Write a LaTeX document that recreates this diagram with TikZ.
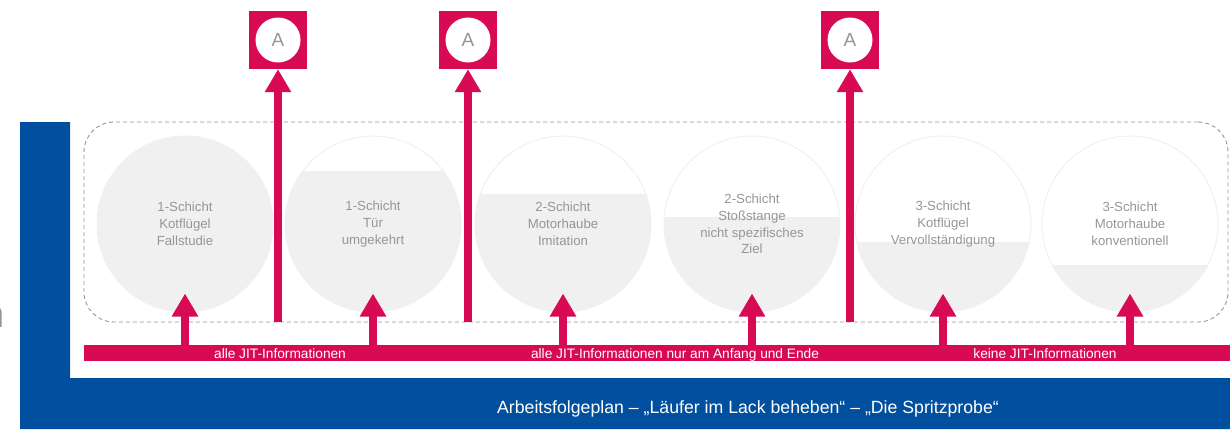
\documentclass[tikz,border=0pt]{standalone}
\usepackage{fontspec}
\setmainfont{Liberation Sans}
\usetikzlibrary{positioning, arrows.meta}
\definecolor{jitred}{HTML}{D70A53}
\definecolor{planblue}{HTML}{00509F}
\definecolor{fillgray}{HTML}{F0F0F0}
\definecolor{textgray}{HTML}{969696}
\begin{document}
\begin{tikzpicture}[x=1pt, y=-1pt,
    schicht/.style={circle, minimum size=176pt, inner sep=0pt, draw=fillgray, line width=1pt, align=center, text=textgray, font=\fontsize{13.2}{16.8}\selectfont},
    abox/.style={fill=jitred, minimum size=58pt, inner sep=0pt},
    aring/.style={circle, fill=white, minimum size=45pt, inner sep=0pt, text=textgray, font=\fontsize{19}{19}\selectfont},
    uparrow/.style={draw=jitred, line width=8pt, -{Triangle[width=25pt, length=23pt]}},
    bartext/.style={anchor=base, text=white, font=\fontsize{13.7}{13.7}\selectfont, inner sep=0pt}]
  \useasboundingbox (0,0) rectangle (1230,429);
  \fill[planblue] (20,122) -- (70,122) -- (70,378) -- (1230,378) -- (1230,429) -- (20,429) -- cycle;
  \node[anchor=base east, inner sep=0pt, text=textgray, font=\fontsize{38}{38}\selectfont] (cut) at (5,327) {n};
  \node[draw=textgray, dash pattern=on 4pt off 3pt, line width=0.9pt, rounded corners=30pt, minimum width=1144pt, minimum height=200pt] (frame) at (656,222) {};
  \foreach \x/\lvl/\nm/\txt in {185/130/s1/{1-Schicht\\Kotflügel\\Fallstudie},
      373/171/s2/{1-Schicht\\Tür\\umgekehrt},
      563/194/s3/{2-Schicht\\Motorhaube\\Imitation},
      752/217/s4/{2-Schicht\\Stoßstange\\nicht spezifisches\\Ziel},
      943/242/s5/{3-Schicht\\Kotflügel\\Vervollständigung},
      1130/265/s6/{3-Schicht\\Motorhaube\\konventionell}}{
    \begin{scope}
      \clip (\x,224) circle (88pt);
      \fill[fillgray] (\x-90,\lvl) rectangle (\x+90,315);
    \end{scope}
    \node[schicht] (\nm) at (\x,224) {\txt};
  }
  \node[fill=jitred, minimum width=1150pt, minimum height=16pt, inner sep=0pt, anchor=west] (bar) at (84,353) {};
  \node[bartext] (j1) at (280,358) {alle JIT-Informationen};
  \node[bartext] (j2) at (675,358) {alle JIT-Informationen nur am Anfang und Ende};
  \node[bartext] (j3) at (1045,358) {keine JIT-Informationen};
  \foreach \nm in {s1,s2,s3,s4,s5,s6}
    \draw[uparrow] (bar.north -| \nm) -- ([yshift=19pt]\nm.south);
  \node[abox] (a1) at (278,40) {};
  \node[abox] (a2) at (468,40) {};
  \node[abox] (a3) at (850,40) {};
  \foreach \nm in {a1,a2,a3}{
    \node[aring] at (\nm) {A};
    \draw[uparrow] (frame.south -| \nm) -- (\nm.south);
  }
  \node[text=white, font=\fontsize{17.7}{17.7}\selectfont] (plan) at (748,409) {Arbeitsfolgeplan – „Läufer im Lack beheben“ – „Die Spritzprobe“};
\end{tikzpicture}
\end{document}
